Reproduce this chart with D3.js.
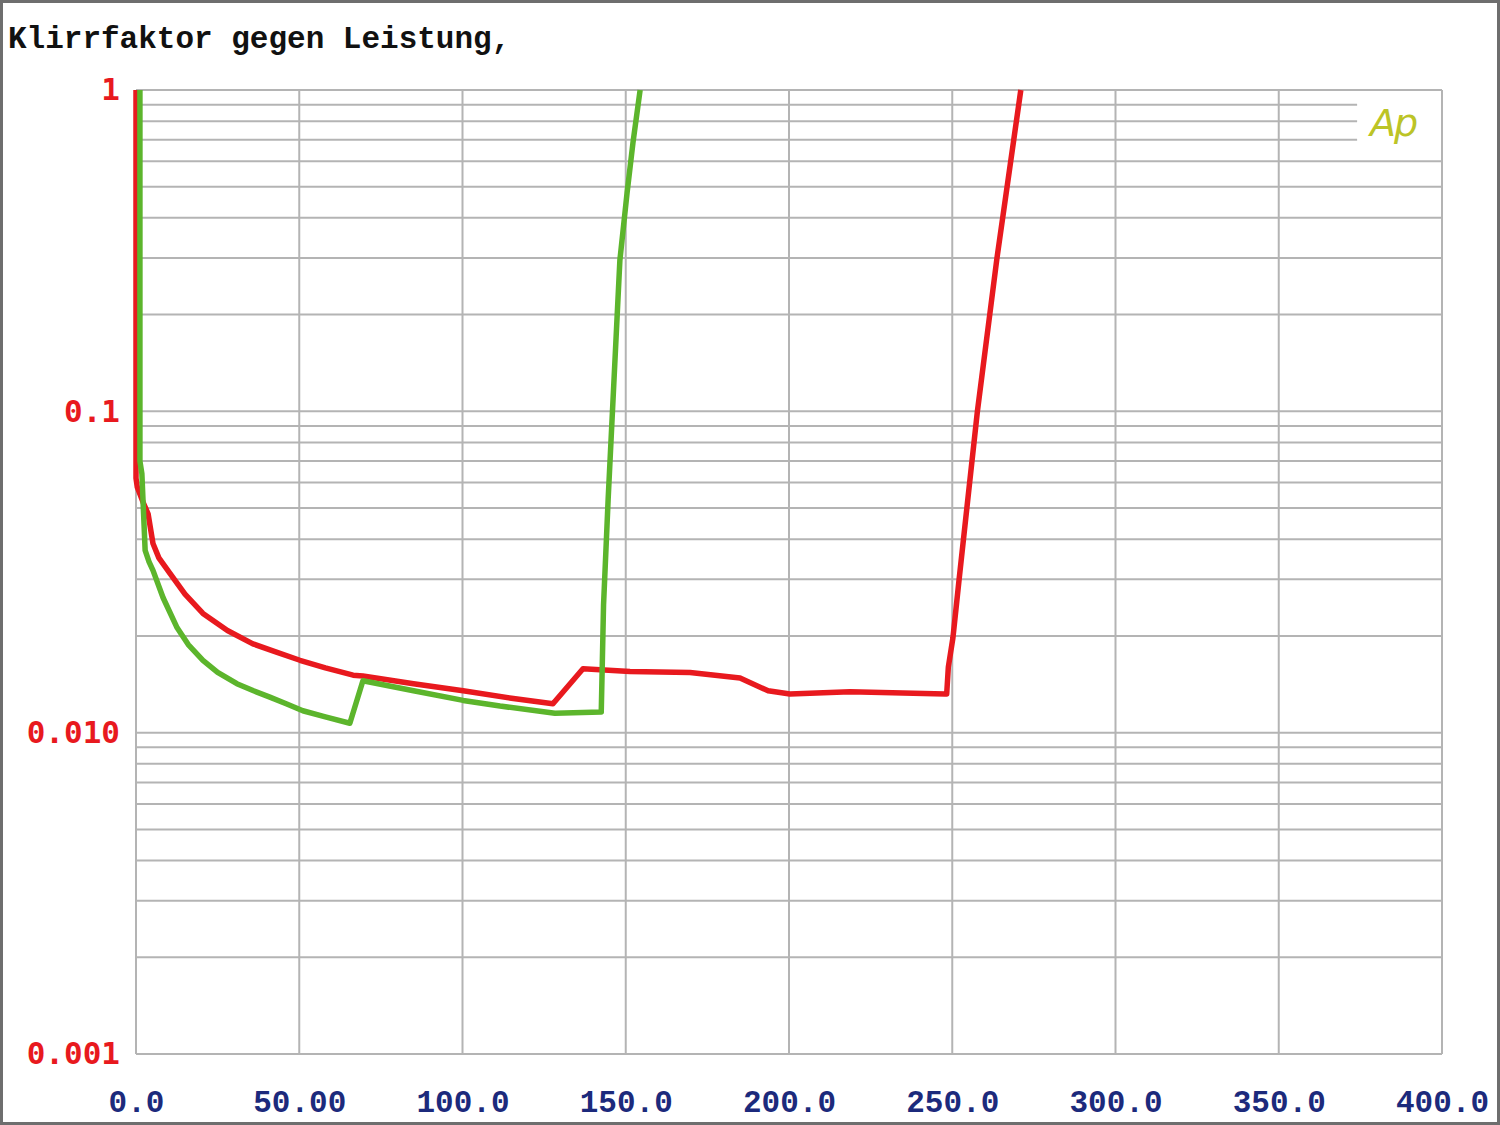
<!DOCTYPE html>
<html>
<head>
<meta charset="utf-8">
<script src="https://cdn.jsdelivr.net/npm/d3@7"></script>
<style>
  body { margin: 0; background: #fff; }
  svg { display: block; }
</style>
</head>
<body>
<div id="canvas"></div>
<script>
// Klirrfaktor (THD) vs. Leistung (power)
const title = "Klirrfaktor gegen Leistung,";

const xTicks = [0, 50, 100, 150, 200, 250, 300, 350, 400];
const xTickLabels = ["0.0", "50.00", "100.0", "150.0", "200.0", "250.0", "300.0", "350.0", "400.0"];
const yTicks = [1, 0.1, 0.01, 0.001];
const yTickLabels = ["1", "0.1", "0.010", "0.001"];

// red trace: [power, distortion]
const redPower = [0, 0, 0.4, 2.2, 3.7, 5.2, 7, 10.4, 15, 20.5, 28, 35.8, 43, 50.2, 58, 66.5, 69.5, 85, 100.2, 115, 127.7, 136.9, 151.3, 169.7, 185, 193.6, 200.3, 218.7, 247.8, 248.3, 248.8, 250.2, 252.1, 257.7, 263.7, 271.0];
const redThd = [1, 0.062, 0.058, 0.052, 0.048, 0.0388, 0.035, 0.0313, 0.027, 0.0235, 0.0208, 0.0189, 0.0178, 0.0168, 0.0159, 0.0151, 0.0150, 0.0142, 0.0135, 0.0128, 0.0123, 0.0158, 0.0155, 0.0154, 0.0148, 0.0135, 0.0132, 0.0134, 0.0132, 0.0132, 0.016, 0.0197, 0.030, 0.1, 0.30, 1.0];

// green trace
const greenPower = [1.2, 1.2, 1.8, 2.8, 4, 5.2, 8.3, 12.6, 16, 20.5, 25, 30.9, 36, 41.0, 46, 51.1, 58, 65.5, 69.5, 85, 100.2, 111.5, 128.3, 142.5, 143.2, 144.6, 148.2, 150.4, 152.2, 154.4];
const greenThd = [1, 0.07, 0.064, 0.0369, 0.034, 0.032, 0.0263, 0.0212, 0.0188, 0.0168, 0.0154, 0.0142, 0.0135, 0.0129, 0.0123, 0.0117, 0.0112, 0.0107, 0.0145, 0.0135, 0.0126, 0.0121, 0.0115, 0.0116, 0.025, 0.053, 0.295, 0.478, 0.684, 1.0];

const W = 1500, H = 1125;
const margin = { left: 136, right: 58, top: 90, bottom: 71 };

const svg = d3.select("#canvas").append("svg")
  .attr("width", W).attr("height", H);

svg.append("rect").attr("x", 0).attr("y", 0).attr("width", W).attr("height", H).attr("fill", "#fff");
// outer frame
svg.append("rect").attr("x", 1.5).attr("y", 1.5).attr("width", W - 3).attr("height", H - 3)
  .attr("fill", "none").attr("stroke", "#6e6e6e").attr("stroke-width", 3);

const x = d3.scaleLinear().domain([0, 400]).range([margin.left, W - margin.right]);
const y = d3.scaleLog().domain([0.001, 1]).range([H - margin.bottom, margin.top]);

svg.append("text")
  .attr("x", 8).attr("y", 48)
  .attr("font-family", "Liberation Mono, DejaVu Sans Mono, monospace")
  .attr("font-size", 31).attr("font-weight", "bold")
  .attr("fill", "#111")
  .text(title);

// grid
const grid = svg.append("g").attr("stroke", "#b4b4b4").attr("stroke-width", 2);
grid.selectAll(".v").data(xTicks).join("line")
  .attr("x1", d => x(d)).attr("x2", d => x(d))
  .attr("y1", y(1)).attr("y2", y(0.001));
grid.selectAll(".h").data(y.ticks()).join("line")
  .attr("x1", x(0))
  .attr("x2", d => (d > 0.65 && d < 1) ? x(374) : x(400)) // short lines next to the Ap logo
  .attr("y1", d => y(d)).attr("y2", d => y(d));

// logo
svg.append("text")
  .attr("x", 1370).attr("y", 136)
  .attr("font-family", "DejaVu Sans, sans-serif")
  .attr("font-size", 38).attr("font-style", "italic")
  .attr("fill", "#bcc426")
  .attr("letter-spacing", -2)
  .text("Ap");

// axes
const yAxis = svg.append("g").attr("transform", `translate(${x(0)},0)`)
  .call(d3.axisLeft(y).tickValues(yTicks).tickSize(0).tickPadding(16)
    .tickFormat((d, i) => yTickLabels[i]));
yAxis.select(".domain").remove();
yAxis.selectAll("text")
  .attr("font-family", "DejaVu Sans Mono, Liberation Mono, monospace")
  .attr("font-size", 31).attr("font-weight", "bold")
  .attr("fill", "#e8191e");

const xAxis = svg.append("g").attr("transform", `translate(0,${y(0.001)})`)
  .call(d3.axisBottom(x).tickValues(xTicks).tickSize(0).tickPadding(36)
    .tickFormat((d, i) => xTickLabels[i]));
xAxis.select(".domain").remove();
xAxis.selectAll("text")
  .attr("font-family", "Liberation Mono, DejaVu Sans Mono, monospace")
  .attr("font-size", 31).attr("font-weight", "bold")
  .attr("fill", "#1c2a7c");

// curves
const line = d3.line().x(d => x(d[0])).y(d => y(d[1]));
const redData = redPower.map((p, i) => [p, redThd[i]]);
const greenData = greenPower.map((p, i) => [p, greenThd[i]]);

svg.append("path").datum(redData)
  .attr("d", line).attr("fill", "none")
  .attr("stroke", "#e8191e").attr("stroke-width", 5.5).attr("stroke-linejoin", "round");
svg.append("path").datum(greenData)
  .attr("d", line).attr("fill", "none")
  .attr("stroke", "#5cb52c").attr("stroke-width", 5.5).attr("stroke-linejoin", "round");
</script>
</body>
</html>
